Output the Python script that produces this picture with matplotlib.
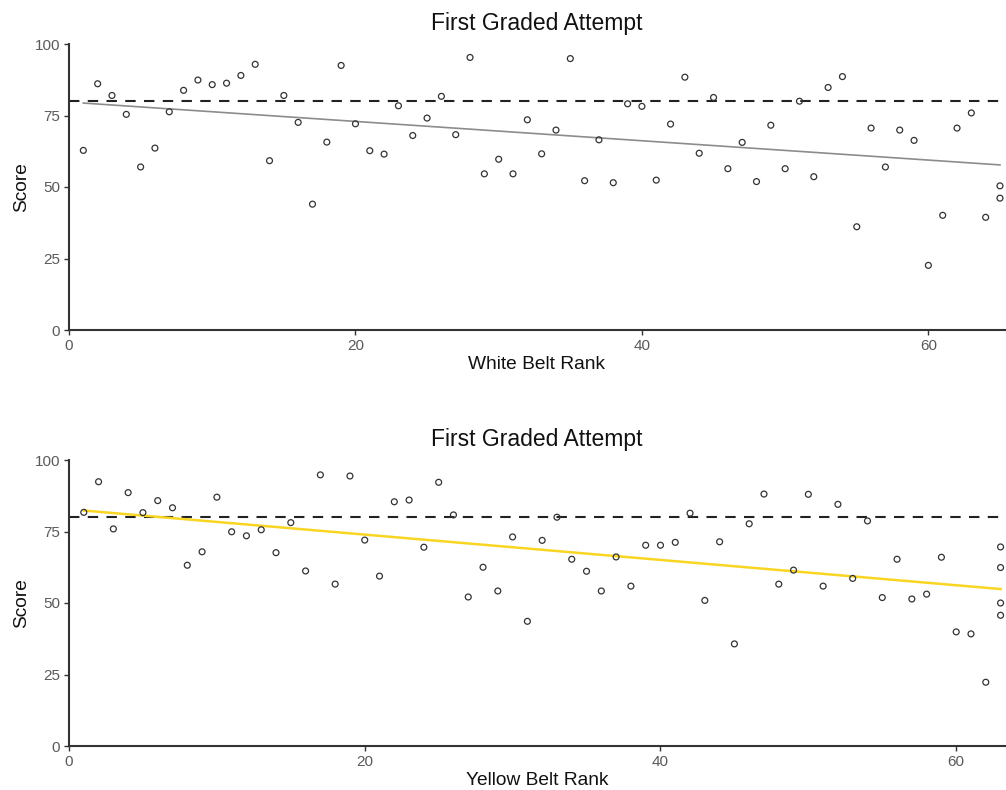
import numpy as np
import matplotlib.pyplot as plt

plt.rcParams['font.family'] = ['Liberation Sans', 'DejaVu Sans']

# White belt: rank vs score (first graded attempt)
white_rank = list(range(1, 66)) + [65]
white_score = [62.8, 86.1, 82.0, 75.4, 57.0, 63.6, 76.3, 83.8, 87.4, 85.8,
               86.3, 89.0, 92.9, 59.2, 82.0, 72.6, 44.0, 65.7, 92.5, 72.1,
               62.7, 61.5, 78.4, 68.0, 74.1, 81.7, 68.3, 95.3, 54.6, 59.7,
               54.6, 73.5, 61.6, 69.9, 94.9, 52.2, 66.5, 51.5, 79.1, 78.2,
               52.4, 72.0, 88.4, 61.8, 81.3, 56.4, 65.6, 51.9, 71.6, 56.4,
               80.0, 53.6, 84.8, 88.6, 36.1, 70.6, 57.0, 69.9, 66.3, 22.6,
               40.1, 70.6, 75.9, 39.4, 50.4, 46.1]

# Yellow belt: rank vs score
yellow_rank = list(range(1, 64)) + [63, 63, 63]
yellow_score = [81.7, 92.4, 75.9, 88.6, 81.6, 85.8, 83.3, 63.2, 67.9, 87.0,
                74.9, 73.5, 75.6, 67.6, 78.1, 61.2, 94.8, 56.6, 94.4, 72.0,
                59.4, 85.4, 86.0, 69.5, 92.2, 80.8, 52.1, 62.5, 54.2, 73.1,
                43.6, 71.9, 80.0, 65.3, 61.1, 54.2, 66.1, 55.9, 70.2, 70.2,
                71.2, 81.4, 50.9, 71.4, 35.7, 77.7, 88.1, 56.6, 61.5, 88.0,
                55.9, 84.5, 58.6, 78.7, 51.9, 65.3, 51.4, 53.1, 66.0, 39.9,
                39.2, 22.3, 69.6, 62.4, 50.0, 45.7]

passing = 80
yticks = [0, 25, 50, 75, 100]

fig = plt.figure(figsize=(10.06, 7.9), dpi=100)
ax1 = fig.add_axes([69/1006, 1 - 330/790, (1005 - 69)/1006, 286/790])
ax2 = fig.add_axes([69/1006, 1 - 746/790, (1005 - 69)/1006, 286/790])


def panel(ax, rank, score, line_color, line_w, xmax, xlabel):
    rank = np.array(rank)
    score = np.array(score)
    ax.scatter(rank, score, s=18, facecolors='none', edgecolors='#333333',
               linewidths=0.9, zorder=3)
    ax.axhline(passing, color='#222222', lw=1.5, ls=(0, (5, 4)), zorder=2)
    # linear fit, like geom_smooth(method = "lm")
    k, b = np.polyfit(rank, score, 1)
    xs = np.array([rank.min(), rank.max()])
    ax.plot(xs, k*xs + b, color=line_color, lw=line_w, zorder=2)
    ax.set_xlim(0, xmax)
    ax.set_ylim(0, 100)
    ax.set_yticks(yticks)
    ax.set_xticks([0, 20, 40, 60])
    for s in ['top', 'right']:
        ax.spines[s].set_visible(False)
    for s in ['left', 'bottom']:
        ax.spines[s].set_color('#333333')
        ax.spines[s].set_linewidth(1.5)
    ax.tick_params(length=3.5, width=1, color='#333333', labelcolor='#5a5a5a',
                   labelsize=11, pad=3)
    ax.set_title('First Graded Attempt', fontsize=16.5, color='#111111', pad=10)
    ax.set_xlabel(xlabel, fontsize=13.8, color='#111111', labelpad=2)
    ax.set_ylabel('Score', fontsize=13.8, color='#111111', labelpad=3)
    for c in ax.collections:
        c.set_clip_on(False)


panel(ax1, white_rank, white_score, '#8c8c8c', 1.2, 65.35, 'White Belt Rank')
panel(ax2, yellow_rank, yellow_score, '#F9D523', 1.8, 63.3, 'Yellow Belt Rank')

fig.savefig('out.png', dpi=100)
